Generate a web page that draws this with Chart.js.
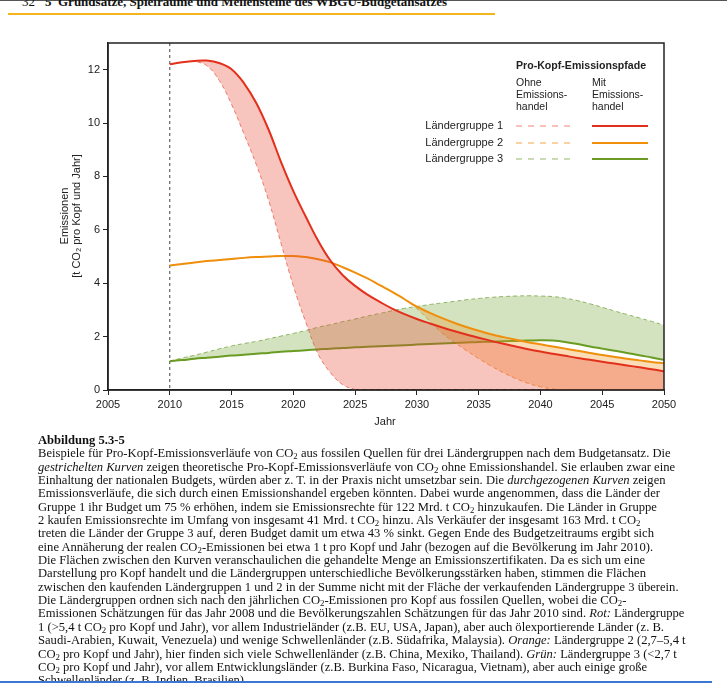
<!DOCTYPE html>
<html>
<head>
<meta charset="utf-8">
<script src="https://cdn.jsdelivr.net/npm/chart.js@4/dist/chart.umd.min.js"></script>
<style>
  html, body { margin: 0; padding: 0; background: #fff; }
  body { width: 727px; height: 683px; position: relative; overflow: hidden; }
  #topline { position: absolute; left: 0; top: 0; width: 727px; height: 1px; background: #555; }
  #head { position: absolute; left: 22px; top: -6px; font: bold 13px "Liberation Serif", serif; color: #111; white-space: nowrap; }
  #head span { margin-right: 10px; font-weight: normal; }
  #rule { position: absolute; left: 8px; top: 13px; width: 487px; height: 2px; background: #f3b51b; }
  #wrap { position: absolute; left: 0; top: 30px; width: 700px; height: 410px; }
  #caption { position: absolute; left: 38px; top: 434px; font: 12.6px/13.35px "Liberation Serif", serif; color: #111; white-space: nowrap; }
  #caption b { font-weight: bold; }
  sub { font-size: 70%; line-height: 0; vertical-align: -0.25em; }
  #bottombar { position: absolute; left: 0; top: 681px; width: 712px; height: 2px; background: #3b78d4; }
</style>
</head>
<body>
<div id="topline"></div>
<div id="head"><span>32</span>5&nbsp; Grundsätze, Spielräume und Meilensteine des WBGU-Budgetansatzes</div>
<div id="rule"></div>
<div id="wrap"><canvas id="chart"></canvas></div>
<div id="caption">
<b>Abbildung 5.3-5</b><br>
Beispiele für Pro-Kopf-Emissionsverläufe von CO<sub>2</sub> aus fossilen Quellen für drei Ländergruppen nach dem Budgetansatz. Die<br>
<i>gestrichelten Kurven</i> zeigen theoretische Pro-Kopf-Emissionsverläufe von CO<sub>2</sub> ohne Emissionshandel. Sie erlauben zwar eine<br>
Einhaltung der nationalen Budgets, würden aber z. T. in der Praxis nicht umsetzbar sein. Die <i>durchgezogenen Kurven</i> zeigen<br>
Emissionsverläufe, die sich durch einen Emissionshandel ergeben könnten. Dabei wurde angenommen, dass die Länder der<br>
Gruppe 1 ihr Budget um 75 % erhöhen, indem sie Emissionsrechte für 122 Mrd. t CO<sub>2</sub> hinzukaufen. Die Länder in Gruppe<br>
2 kaufen Emissionsrechte im Umfang von insgesamt 41 Mrd. t CO<sub>2</sub> hinzu. Als Verkäufer der insgesamt 163 Mrd. t CO<sub>2</sub><br>
treten die Länder der Gruppe 3 auf, deren Budget damit um etwa 43 % sinkt. Gegen Ende des Budgetzeitraums ergibt sich<br>
eine Annäherung der realen CO<sub>2</sub>-Emissionen bei etwa 1 t pro Kopf und Jahr (bezogen auf die Bevölkerung im Jahr 2010).<br>
Die Flächen zwischen den Kurven veranschaulichen die gehandelte Menge an Emissionszertifikaten. Da es sich um eine<br>
Darstellung pro Kopf handelt und die Ländergruppen unterschiedliche Bevölkerungsstärken haben, stimmen die Flächen<br>
zwischen den kaufenden Ländergruppen 1 und 2 in der Summe nicht mit der Fläche der verkaufenden Ländergruppe 3 überein.<br>
Die Ländergruppen ordnen sich nach den jährlichen CO<sub>2</sub>-Emissionen pro Kopf aus fossilen Quellen, wobei die CO<sub>2</sub>-<br>
Emissionen Schätzungen für das Jahr 2008 und die Bevölkerungszahlen Schätzungen für das Jahr 2010 sind. <i>Rot:</i> Ländergruppe<br>
1 (&gt;5,4 t CO<sub>2</sub> pro Kopf und Jahr), vor allem Industrieländer (z.B. EU, USA, Japan), aber auch ölexportierende Länder (z. B.<br>
Saudi-Arabien, Kuwait, Venezuela) und wenige Schwellenländer (z.B. Südafrika, Malaysia). <i>Orange:</i> Ländergruppe 2 (2,7–5,4 t<br>
CO<sub>2</sub> pro Kopf und Jahr), hier finden sich viele Schwellenländer (z.B. China, Mexiko, Thailand). <i>Grün:</i> Ländergruppe 3 (&lt;2,7 t<br>
CO<sub>2</sub> pro Kopf und Jahr), vor allem Entwicklungsländer (z.B. Burkina Faso, Nicaragua, Vietnam), aber auch einige große<br>
Schwellenländer (z. B. Indien, Brasilien).
</div>
<div id="bottombar"></div>

<script>
// years 2010..2050
const years = [];
for (let y = 2010; y <= 2050; y++) years.push(y);

const xTicks = [2005, 2010, 2015, 2020, 2025, 2030, 2035, 2040, 2045, 2050];
const yTicks = [0, 2, 4, 6, 8, 10, 12];

// Ländergruppe 1
const redWithout = [12.2, 12.28, 12.3, 12.15, 11.6, 10.7, 9.6, 8.45, 7.1, 5.5,
  3.9, 2.55, 1.35, 0.65, 0.2, 0.02, 0, 0, 0, 0,
  0, 0, 0, 0, 0, 0, 0, 0, 0, 0,
  0, 0, 0, 0, 0, 0, 0, 0, 0, 0, 0];
const redWith = [12.2, 12.28, 12.33, 12.34, 12.25, 12.02, 11.5, 10.75, 9.75, 8.55,
  7.45, 6.5, 5.6, 4.85, 4.3, 3.9, 3.57, 3.3, 3.05, 2.84,
  2.66, 2.5, 2.35, 2.21, 2.08, 1.96, 1.84, 1.73, 1.63, 1.53,
  1.44, 1.36, 1.28, 1.2, 1.13, 1.06, 0.99, 0.92, 0.85, 0.78, 0.7];

// Ländergruppe 2
const orangeWithout = [4.66, 4.72, 4.78, 4.83, 4.87, 4.91, 4.95, 4.98, 5.0, 5.02,
  5.02, 4.98, 4.9, 4.78, 4.6, 4.4, 4.18, 3.93, 3.68, 3.4,
  3.05, 2.6, 2.15, 1.8, 1.48, 1.18, 0.9, 0.65, 0.43, 0.25,
  0.12, 0.04, 0, 0, 0, 0, 0, 0, 0, 0, 0];
const orangeWith = [4.66, 4.72, 4.78, 4.83, 4.87, 4.91, 4.95, 4.98, 5.0, 5.02,
  5.02, 4.98, 4.9, 4.78, 4.6, 4.4, 4.18, 3.93, 3.68, 3.4,
  3.12, 2.9, 2.7, 2.52, 2.36, 2.22, 2.09, 1.98, 1.88, 1.79,
  1.71, 1.63, 1.55, 1.47, 1.39, 1.31, 1.24, 1.17, 1.11, 1.05, 1.0];

// Ländergruppe 3
const greenWithout = [1.08, 1.2, 1.3, 1.42, 1.54, 1.65, 1.74, 1.82, 1.92, 2.02,
  2.12, 2.23, 2.35, 2.45, 2.56, 2.66, 2.77, 2.87, 2.97, 3.06,
  3.13, 3.2, 3.26, 3.32, 3.38, 3.43, 3.47, 3.5, 3.52, 3.53,
  3.52, 3.5, 3.44, 3.35, 3.23, 3.1, 2.96, 2.83, 2.7, 2.57, 2.43];
const greenWith = [1.08, 1.12, 1.17, 1.21, 1.25, 1.29, 1.32, 1.36, 1.39, 1.43,
  1.46, 1.49, 1.52, 1.55, 1.57, 1.6, 1.62, 1.64, 1.66, 1.68,
  1.7, 1.72, 1.74, 1.76, 1.78, 1.8, 1.81, 1.83, 1.84, 1.85,
  1.86, 1.85, 1.8, 1.72, 1.63, 1.55, 1.47, 1.39, 1.3, 1.22, 1.13];

const groups = ["Ländergruppe 1", "Ländergruppe 2", "Ländergruppe 3"];
const solidColors = ["#e2301c", "#ef8f0c", "#6a9b22"];
const dashColors = ["#ee8576", "#f2a64a", "#93b66a"];
const fillColors = ["rgba(234,72,52,0.32)", "rgba(240,146,30,0.32)", "rgba(118,168,60,0.32)"];

const pts = arr => arr.map((v, i) => ({ x: years[i], y: v }));

const series = [[redWithout, redWith], [orangeWithout, orangeWith], [greenWithout, greenWith]];
const datasets = [];
series.forEach((pair, g) => {
  datasets.push({
    label: groups[g] + " ohne Emissionshandel",
    data: pts(pair[0]),
    borderColor: dashColors[g],
    borderWidth: 1,
    borderDash: [4, 3],
    pointRadius: 0,
    tension: 0.4,
    fill: false,
    order: 1
  });
  datasets.push({
    label: groups[g] + " mit Emissionshandel",
    data: pts(pair[1]),
    borderColor: solidColors[g],
    borderWidth: 2,
    pointRadius: 0,
    tension: 0.4,
    fill: { target: datasets.length - 1 },
    backgroundColor: fillColors[g],
    order: 0
  });
});

const sans = '"Liberation Sans", Arial, sans-serif';
const TOP = 30; // canvas offset on the page

const extras = {
  id: "extras",
  beforeDatasetsDraw(chart) {
    const { ctx, chartArea: a, scales } = chart;
    const x = scales.x.getPixelForValue(2010);
    ctx.save();
    ctx.strokeStyle = "#444";
    ctx.lineWidth = 1;
    ctx.setLineDash([3, 3]);
    ctx.beginPath();
    ctx.moveTo(x, a.top);
    ctx.lineTo(x, a.bottom);
    ctx.stroke();
    ctx.restore();
  },
  afterDraw(chart) {
    const { ctx, chartArea: a } = chart;
    ctx.save();
    // frame
    ctx.strokeStyle = "#222";
    ctx.lineWidth = 1.5;
    ctx.strokeRect(a.left, a.top, a.right - a.left, a.bottom - a.top);

    ctx.fillStyle = "#222";
    ctx.font = "11px " + sans;
    ctx.textAlign = "center";
    ctx.textBaseline = "middle";
    ctx.fillText("Jahr", 385, 422 - TOP);

    ctx.save();
    ctx.translate(65, 216 - TOP);
    ctx.rotate(-Math.PI / 2);
    ctx.fillText("Emissionen", 0, 0);
    ctx.fillText("[t CO₂ pro Kopf und Jahr]", 0, 12);
    ctx.restore();

    // legend
    ctx.textAlign = "left";
    ctx.font = "bold 10.6px " + sans;
    ctx.fillText("Pro-Kopf-Emissionspfade", 516, 66 - TOP);
    ctx.font = "10.5px " + sans;
    ["Ohne", "Emissions-", "handel"].forEach((t, i) => ctx.fillText(t, 516, 83 + i * 12 - TOP));
    ["Mit", "Emissions-", "handel"].forEach((t, i) => ctx.fillText(t, 592, 83 + i * 12 - TOP));
    const rows = [126, 143, 159];
    groups.forEach((g, i) => {
      const yy = rows[i] - TOP;
      ctx.textAlign = "right";
      ctx.fillStyle = "#222";
      ctx.font = "11px " + sans;
      ctx.fillText(g, 503, yy);
      ctx.strokeStyle = dashColors[i];
      ctx.lineWidth = 1;
      ctx.setLineDash([6, 6]);
      ctx.beginPath();
      ctx.moveTo(516, yy);
      ctx.lineTo(575, yy);
      ctx.stroke();
      ctx.setLineDash([]);
      ctx.strokeStyle = solidColors[i];
      ctx.lineWidth = 2.2;
      ctx.beginPath();
      ctx.moveTo(592, yy);
      ctx.lineTo(648, yy);
      ctx.stroke();
    });
    ctx.restore();
  }
};

new Chart(document.getElementById("chart"), {
  type: "line",
  data: { datasets },
  plugins: [extras],
  options: {
    responsive: true,
    maintainAspectRatio: false,
    animation: false,
    layout: { padding: { top: 13, right: 36, left: 0, bottom: 0 } },
    plugins: { legend: { display: false }, tooltip: { enabled: false } },
    scales: {
      x: {
        type: "linear",
        min: 2005,
        max: 2050,
        afterFit: s => { s.height = 50; },
        afterBuildTicks: s => { s.ticks = xTicks.map(v => ({ value: v })); },
        ticks: { color: "#222", font: { family: sans, size: 11 }, padding: 3, maxRotation: 0, callback: v => String(v) },
        grid: { drawOnChartArea: false, drawTicks: true, tickLength: 5, color: "#222" },
        border: { display: true, color: "#222", width: 1.5 }
      },
      y: {
        min: 0,
        max: 13,
        afterFit: s => { s.width = 108; },
        afterBuildTicks: s => { s.ticks = yTicks.map(v => ({ value: v })); },
        ticks: { color: "#222", font: { family: sans, size: 11 }, padding: 3 },
        grid: { drawOnChartArea: false, drawTicks: true, tickLength: 5, color: "#222" },
        border: { display: true, color: "#222", width: 1.5 }
      }
    }
  }
});
</script>
</body>
</html>
